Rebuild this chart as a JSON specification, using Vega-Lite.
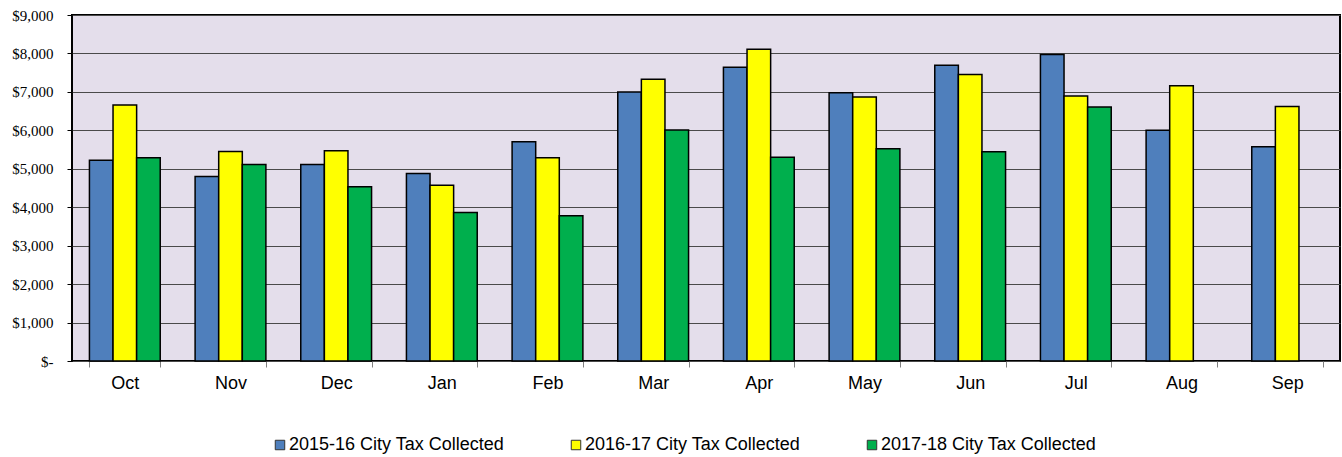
{
  "$schema": "https://vega.github.io/schema/vega-lite/v6.json",
  "autosize": {"type": "none"},
  "width": 1268,
  "height": 346,
  "padding": {"left": 72, "top": 15, "right": 2, "bottom": 96},
  "background": "white",
  "config": {
    "view": {"fill": "#E4DEEB", "stroke": "#000000", "strokeWidth": 2}
  },
  "data": {
    "values": [
      {"month": "Oct", "series": "2015-16 City Tax Collected", "value": 5220},
      {"month": "Oct", "series": "2016-17 City Tax Collected", "value": 6660},
      {"month": "Oct", "series": "2017-18 City Tax Collected", "value": 5290},
      {"month": "Nov", "series": "2015-16 City Tax Collected", "value": 4800},
      {"month": "Nov", "series": "2016-17 City Tax Collected", "value": 5450},
      {"month": "Nov", "series": "2017-18 City Tax Collected", "value": 5110},
      {"month": "Dec", "series": "2015-16 City Tax Collected", "value": 5110},
      {"month": "Dec", "series": "2016-17 City Tax Collected", "value": 5470},
      {"month": "Dec", "series": "2017-18 City Tax Collected", "value": 4530},
      {"month": "Jan", "series": "2015-16 City Tax Collected", "value": 4880},
      {"month": "Jan", "series": "2016-17 City Tax Collected", "value": 4570},
      {"month": "Jan", "series": "2017-18 City Tax Collected", "value": 3860},
      {"month": "Feb", "series": "2015-16 City Tax Collected", "value": 5700},
      {"month": "Feb", "series": "2016-17 City Tax Collected", "value": 5290},
      {"month": "Feb", "series": "2017-18 City Tax Collected", "value": 3780},
      {"month": "Mar", "series": "2015-16 City Tax Collected", "value": 7000},
      {"month": "Mar", "series": "2016-17 City Tax Collected", "value": 7330},
      {"month": "Mar", "series": "2017-18 City Tax Collected", "value": 6010},
      {"month": "Apr", "series": "2015-16 City Tax Collected", "value": 7640},
      {"month": "Apr", "series": "2016-17 City Tax Collected", "value": 8110},
      {"month": "Apr", "series": "2017-18 City Tax Collected", "value": 5300},
      {"month": "May", "series": "2015-16 City Tax Collected", "value": 6980},
      {"month": "May", "series": "2016-17 City Tax Collected", "value": 6870},
      {"month": "May", "series": "2017-18 City Tax Collected", "value": 5520},
      {"month": "Jun", "series": "2015-16 City Tax Collected", "value": 7690},
      {"month": "Jun", "series": "2016-17 City Tax Collected", "value": 7450},
      {"month": "Jun", "series": "2017-18 City Tax Collected", "value": 5440},
      {"month": "Jul", "series": "2015-16 City Tax Collected", "value": 7970},
      {"month": "Jul", "series": "2016-17 City Tax Collected", "value": 6890},
      {"month": "Jul", "series": "2017-18 City Tax Collected", "value": 6610},
      {"month": "Aug", "series": "2015-16 City Tax Collected", "value": 6000},
      {"month": "Aug", "series": "2016-17 City Tax Collected", "value": 7160},
      {"month": "Sep", "series": "2015-16 City Tax Collected", "value": 5570},
      {"month": "Sep", "series": "2016-17 City Tax Collected", "value": 6620}
    ]
  },
  "mark": {"type": "bar", "stroke": "#000000", "strokeWidth": 1.5},
  "encoding": {
    "x": {
      "field": "month",
      "type": "nominal",
      "sort": ["Oct", "Nov", "Dec", "Jan", "Feb", "Mar", "Apr", "May", "Jun", "Jul", "Aug", "Sep"],
      "scale": {"paddingInner": 0.33, "paddingOuter": 0.165},
      "axis": {
        "title": null,
        "labelAngle": 0,
        "labelFont": "Liberation Sans",
        "labelFontSize": 18,
        "labelColor": "#000000",
        "labelPadding": 7,
        "domain": false,
        "tickBand": "extent",
        "tickColor": "#808080",
        "tickSize": 6,
        "grid": false
      }
    },
    "xOffset": {
      "field": "series",
      "type": "nominal",
      "scale": {"paddingInner": 0, "paddingOuter": 0}
    },
    "y": {
      "field": "value",
      "type": "quantitative",
      "scale": {"domain": [0, 9000], "nice": false},
      "axis": {
        "title": null,
        "values": [0, 1000, 2000, 3000, 4000, 5000, 6000, 7000, 8000, 9000],
        "labelExpr": "datum.value == 0 ? '$-' : '$' + format(datum.value, ',')",
        "labelFont": "Liberation Serif",
        "labelFontSize": 15,
        "labelColor": "#000000",
        "labelPadding": 14,
        "domain": false,
        "tickColor": "#000000",
        "tickSize": 5,
        "grid": true,
        "gridColor": "#4a4a4a",
        "gridWidth": 1
      }
    },
    "color": {
      "field": "series",
      "type": "nominal",
      "scale": {
        "domain": ["2015-16 City Tax Collected", "2016-17 City Tax Collected", "2017-18 City Tax Collected"],
        "range": ["#4F7FBC", "#FFFF00", "#00AF4D"]
      },
      "legend": {
        "title": null,
        "orient": "none",
        "direction": "horizontal",
        "legendX": 199,
        "legendY": 421,
        "symbolType": "square",
        "symbolSize": 90,
        "symbolStrokeColor": "#333333",
        "symbolStrokeWidth": 1,
        "labelFont": "Liberation Sans",
        "labelFontSize": 18,
        "labelLimit": 0,
        "labelColor": "#000000",
        "labelOffset": 0,
        "columnPadding": 62
      }
    }
  }
}
